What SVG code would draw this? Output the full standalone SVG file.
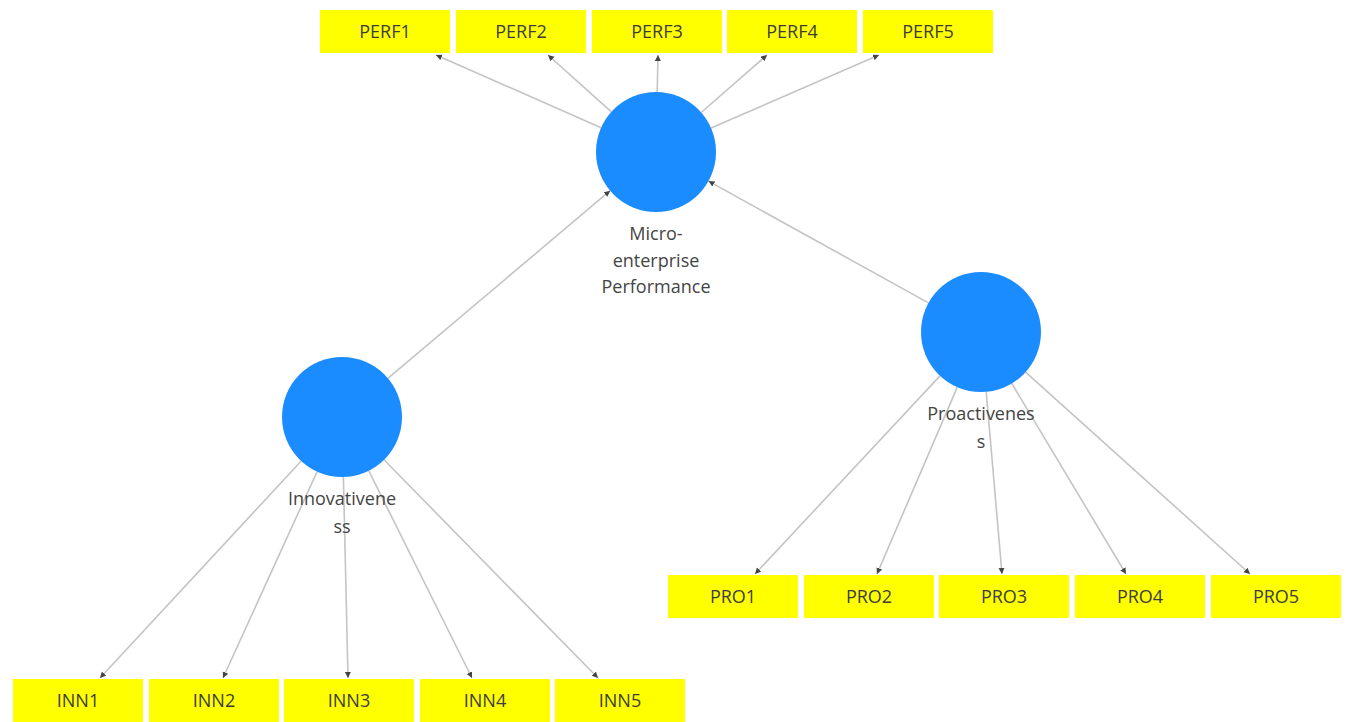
<svg xmlns="http://www.w3.org/2000/svg" width="1346" height="722" viewBox="0 0 1346 722">
<style>
.box{fill:#ffff00;}
.bt{font-family:"Open Sans","Liberation Sans",sans-serif;font-size:18px;fill:#3c3c3c;text-anchor:middle;}
.lv{fill:#1a8cff;}
.lt{font-family:"Open Sans","Liberation Sans",sans-serif;font-size:18px;fill:#444;text-anchor:middle;}
.cn{stroke:#c4c4c4;stroke-width:1.6;fill:none;marker-end:url(#ah);}
</style>
<defs>
<marker id="ah" markerUnits="userSpaceOnUse" markerWidth="7" markerHeight="7" refX="6" refY="3" orient="auto">
<path d="M0,0 L6,3 L0,6 Z" fill="#444"/>
</marker>
</defs>
<rect width="1346" height="722" fill="#ffffff"/>
<g id="connectors">
<line class="cn" x1="601.1" y1="127.8" x2="436" y2="55"/>
<line class="cn" x1="611.4" y1="111.9" x2="548" y2="55"/>
<line class="cn" x1="657.2" y1="92" x2="658" y2="55"/>
<line class="cn" x1="701.2" y1="112.5" x2="767" y2="55"/>
<line class="cn" x1="711" y1="128.1" x2="879" y2="55"/>
<line class="cn" x1="387.9" y1="378.3" x2="610.1" y2="190.7"/>
<line class="cn" x1="928.5" y1="302.9" x2="708.5" y2="181.1"/>
<line class="cn" x1="301.2" y1="461" x2="100" y2="678"/>
<line class="cn" x1="317.1" y1="471.6" x2="223" y2="678"/>
<line class="cn" x1="343.4" y1="477" x2="348" y2="678"/>
<line class="cn" x1="368.7" y1="470.7" x2="472" y2="678"/>
<line class="cn" x1="384" y1="459.8" x2="598" y2="678"/>
<line class="cn" x1="940" y1="375.9" x2="755" y2="574"/>
<line class="cn" x1="957.3" y1="387.1" x2="877" y2="574"/>
<line class="cn" x1="986.2" y1="391.8" x2="1002" y2="574"/>
<line class="cn" x1="1011.8" y1="383.5" x2="1126" y2="574"/>
<line class="cn" x1="1025.6" y1="372.1" x2="1250" y2="574"/>
</g>
<g id="perf1"><rect class="box" x="320" y="10" width="130" height="43"/><text class="bt" x="385" y="38">PERF1</text></g>
<g id="perf2"><rect class="box" x="456" y="10" width="130" height="43"/><text class="bt" x="521" y="38">PERF2</text></g>
<g id="perf3"><rect class="box" x="592" y="10" width="130" height="43"/><text class="bt" x="657" y="38">PERF3</text></g>
<g id="perf4"><rect class="box" x="727" y="10" width="130" height="43"/><text class="bt" x="792" y="38">PERF4</text></g>
<g id="perf5"><rect class="box" x="863" y="10" width="130" height="43"/><text class="bt" x="928" y="38">PERF5</text></g>
<g id="micro"><circle class="lv" cx="656" cy="152" r="60"/>
<text class="lt" x="656" y="240">Micro-</text>
<text class="lt" x="656" y="267">enterprise</text>
<text class="lt" x="656" y="293">Performance</text></g>
<g id="innovativeness"><circle class="lv" cx="342" cy="417" r="60"/>
<text class="lt" x="342" y="505">Innovativene</text>
<text class="lt" x="342" y="533">ss</text></g>
<g id="proactiveness"><circle class="lv" cx="981" cy="332" r="60"/>
<text class="lt" x="981" y="420">Proactivenes</text>
<text class="lt" x="981" y="448">s</text></g>
<g id="inn1"><rect class="box" x="13" y="679" width="130" height="43"/><text class="bt" x="78" y="707">INN1</text></g>
<g id="inn2"><rect class="box" x="149" y="679" width="130" height="43"/><text class="bt" x="214" y="707">INN2</text></g>
<g id="inn3"><rect class="box" x="284" y="679" width="130" height="43"/><text class="bt" x="349" y="707">INN3</text></g>
<g id="inn4"><rect class="box" x="420" y="679" width="130" height="43"/><text class="bt" x="485" y="707">INN4</text></g>
<g id="inn5"><rect class="box" x="555" y="679" width="130" height="43"/><text class="bt" x="620" y="707">INN5</text></g>
<g id="pro1"><rect class="box" x="668" y="575" width="130" height="43"/><text class="bt" x="733" y="603">PRO1</text></g>
<g id="pro2"><rect class="box" x="804" y="575" width="130" height="43"/><text class="bt" x="869" y="603">PRO2</text></g>
<g id="pro3"><rect class="box" x="939" y="575" width="130" height="43"/><text class="bt" x="1004" y="603">PRO3</text></g>
<g id="pro4"><rect class="box" x="1075" y="575" width="130" height="43"/><text class="bt" x="1140" y="603">PRO4</text></g>
<g id="pro5"><rect class="box" x="1211" y="575" width="130" height="43"/><text class="bt" x="1276" y="603">PRO5</text></g>
</svg>
